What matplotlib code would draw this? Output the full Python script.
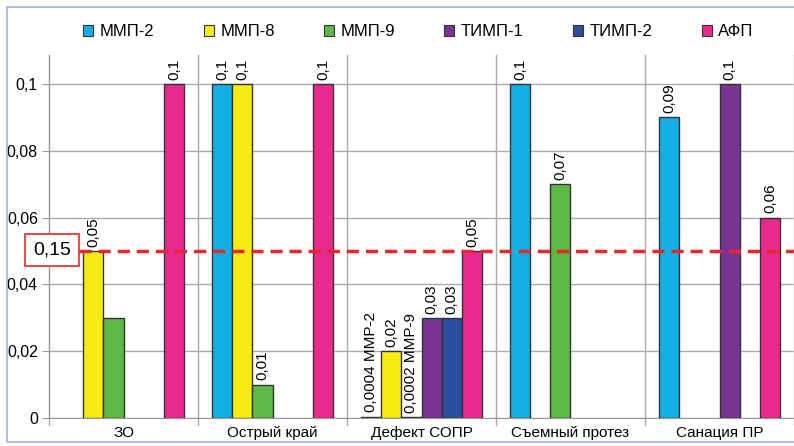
import matplotlib
matplotlib.use("Agg")
import matplotlib.pyplot as plt
import numpy as np
from matplotlib.patches import Rectangle, Patch

plt.rcParams['font.family'] = ['Liberation Sans', 'DejaVu Sans']

categories = ['ЗО', 'Острый край', 'Дефект СОПР', 'Съемный протез', 'Санация ПР']
series_names = ['ММП-2', 'ММП-8', 'ММП-9', 'ТИМП-1', 'ТИМП-2', 'АФП']
mmp2 = [None, 0.1, 0.0004, 0.1, 0.09]
mmp8 = [0.05, 0.1, 0.02, None, None]
mmp9 = [0.03, 0.01, 0.0002, 0.07, None]
timp1 = [None, None, 0.03, None, 0.1]
timp2 = [None, None, 0.03, None, None]
afp = [0.1, 0.1, 0.05, None, 0.06]
series_values = [mmp2, mmp8, mmp9, timp1, timp2, afp]
special_labels = {(0, 2): '0,0004 ММР-2', (2, 2): '0,0002 ММР-9'}
hidden_labels = {(2, 0)}
threshold_value = 0.05
threshold_label = '0,15'
yticks = [0, 0.02, 0.04, 0.06, 0.08, 0.1]
ytick_labels = ['0', '0,02', '0,04', '0,06', '0,08', '0,1']

colors = ['#13B0E6', '#F6EC13', '#5CB946', '#7A3494', '#2C4EA0', '#EB2A8F']

fig = plt.figure(figsize=(7.94, 4.46), dpi=100)
ax = fig.add_axes([49/794, 28/446, 745/794, 363/446])

bw = 0.1355
x = np.arange(len(categories))
for i, (vals, col) in enumerate(zip(series_values, colors)):
    off = (i - 2.5) * bw
    for j, v in enumerate(vals):
        if v is None:
            continue
        ax.bar(x[j] + off, v, width=bw, color=col, edgecolor='#333333', linewidth=1, zorder=3)
        if (i, j) in hidden_labels:
            continue
        lab = special_labels.get((i, j), f'{v:g}'.replace('.', ','))
        ax.annotate(lab, (x[j] + off, v), xytext=(0, 3), textcoords='offset points',
                    rotation=90, ha='center', va='bottom', fontsize=11, zorder=5)

ax.set_xlim(-0.5, len(categories) - 0.5)
ax.set_ylim(0, 0.1087)
ax.set_yticks(yticks)
ax.set_yticklabels(ytick_labels, fontsize=11.5)
ax.set_xticks(x)
ax.set_xticklabels(categories, fontsize=11)
ax.tick_params(axis='x', length=0, pad=6)
ax.tick_params(axis='y', length=5, color='#999999', pad=3)
for b in np.arange(-0.5, len(categories), 1.0):
    ax.axvline(b, color='#AAAAAA', lw=1, zorder=1, clip_on=False, ymin=-0.02, ymax=1)
ax.grid(axis='y', color='#AAAAAA', lw=1, zorder=1)
for s in ['top', 'right']:
    ax.spines[s].set_visible(False)
ax.spines['left'].set_color('#999999')
ax.spines['bottom'].set_color('#999999')

ax.axhline(threshold_value, xmin=(79-49)/745, xmax=1, color='#E8262B', lw=2.5,
           dashes=(3.5, 2), zorder=6)
fig.text(52/794, 1 - 250/446, threshold_label, fontsize=14, ha='center', va='center',
         bbox=dict(boxstyle='square,pad=0.4', fc='white', ec='#E8262B', lw=1.2), zorder=7)

handles = [Patch(facecolor=c, edgecolor='#333333', lw=0.8) for c in colors]
fig.legend(handles, series_names, loc='center', bbox_to_anchor=(0.527, 1 - 32/446),
           ncol=6, frameon=False, fontsize=12, handlelength=0.6, handleheight=0.6,
           handletextpad=0.4, columnspacing=2.95)

fig.patches.append(Rectangle((7/794, 4/446), 1, 1 - 11/446, transform=fig.transFigure,
                             fill=False, ec='#9DB5D8', lw=1.2, zorder=0))

fig.savefig('out.png', dpi=100)
